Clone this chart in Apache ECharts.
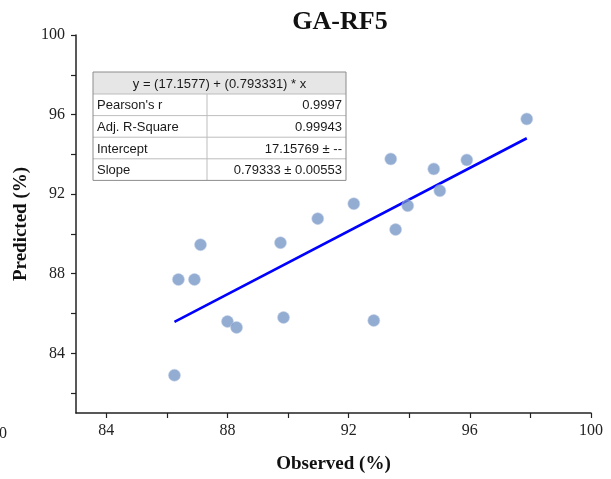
<!DOCTYPE html>
<html>
<head>
<meta charset="utf-8">
<script src="https://cdn.jsdelivr.net/npm/echarts@6/dist/echarts.min.js"></script>
<style>
  html, body { margin: 0; padding: 0; background: #fff; }
  #chart { width: 611px; height: 479px; }
</style>
</head>
<body>
<div id="chart"></div>
<script>
// Observed vs. predicted values for the GA-RF5 model
const observed  = [86.25, 86.38, 86.91, 87.11, 88.00, 88.30, 89.75, 89.85, 90.98,
                   92.17, 92.83, 93.39, 93.55, 93.95, 94.81, 95.01, 95.90, 97.88];
const predicted = [82.90, 87.71, 87.71, 89.46, 85.60, 85.30, 89.56, 85.80, 90.77,
                   91.52, 85.65, 93.77, 90.22, 91.42, 93.27, 92.17, 93.72, 95.78];

// Linear fit coefficients
const intercept = 17.1577;
const slope = 0.793331;

// Fit summary table
const tableHeader = 'y = (17.1577) + (0.793331) * x';
const tableLabels = ["Pearson's r", 'Adj. R-Square', 'Intercept', 'Slope'];
const tableValues = ['0.9997', '0.99943', '17.15769 \u00b1 --', '0.79333 \u00b1 0.00553'];

// Axis ticks
const xLabelTicks = [84, 88, 92, 96, 100];
const xMinorTicks = [84, 86, 88, 90, 92, 94, 96, 98, 100];
const yLabelTicks = [84, 88, 92, 96, 100];
const yMinorTicks = [82, 84, 86, 88, 90, 92, 94, 96, 98, 100];

const serif = 'Liberation Serif';
const sans = 'Liberation Sans';

const points = observed.map((x, i) => [x, predicted[i]]);
const xLo = Math.min(...observed), xHi = Math.max(...observed);
const fitLine = [[xLo, intercept + slope * xLo], [xHi, intercept + slope * xHi]];

const chart = echarts.init(document.getElementById('chart'), null, { renderer: 'canvas' });

// Table built as graphic elements
function buildTable() {
  const left = 93, right = 346, top = 72, headH = 22, rowH = 21.6, split = 207;
  const els = [];
  const bottom = top + headH + rowH * tableLabels.length;
  els.push({ type: 'rect', shape: { x: left, y: top, width: right - left, height: headH },
             style: { fill: '#e6e6e6', stroke: null }, z: 10 });
  els.push({ type: 'rect', shape: { x: left, y: top, width: right - left, height: bottom - top },
             style: { fill: 'rgba(255,255,255,0)', stroke: '#8c8c8c', lineWidth: 1 }, z: 12 });
  els.push({ type: 'rect', shape: { x: left, y: top + headH, width: right - left, height: bottom - top - headH },
             style: { fill: '#ffffff' }, z: 9 });
  els.push({ type: 'text', x: (left + right) / 2, y: top + headH / 2 + 1, z: 13,
             style: { text: tableHeader, font: '13px ' + sans, fill: '#1a1a1a', align: 'center', verticalAlign: 'middle' } });
  els.push({ type: 'line', shape: { x1: split, y1: top + headH, x2: split, y2: bottom },
             style: { stroke: '#bdbdbd', lineWidth: 1 }, z: 11 });
  tableLabels.forEach((lab, i) => {
    const y0 = top + headH + rowH * i;
    els.push({ type: 'line', shape: { x1: left, y1: y0, x2: right, y2: y0 },
               style: { stroke: '#bdbdbd', lineWidth: 1 }, z: 11 });
    els.push({ type: 'text', x: left + 4, y: y0 + rowH / 2 + 1, z: 13,
               style: { text: lab, font: '13px ' + sans, fill: '#1a1a1a', align: 'left', verticalAlign: 'middle' } });
    els.push({ type: 'text', x: right - 4, y: y0 + rowH / 2 + 1, z: 13,
               style: { text: tableValues[i], font: '13px ' + sans, fill: '#1a1a1a', align: 'right', verticalAlign: 'middle' } });
  });
  // clipped tick label from the neighbouring panel edge
  els.push({ type: 'text', x: 7, y: 434, z: 13,
             style: { text: '100', font: '16px ' + serif, fill: '#222', align: 'right', verticalAlign: 'middle' } });
  return els;
}

const axisCommon = {
  type: 'value',
  splitLine: { show: false },
  axisLine: { show: true, onZero: false, lineStyle: { color: '#222', width: 1.5 } },
  axisTick: { show: true, inside: false, length: 5, lineStyle: { color: '#222', width: 1.2 } },
  axisLabel: { fontFamily: serif, fontSize: 16, color: '#222', margin: 10 },
  nameTextStyle: { fontFamily: serif, fontSize: 19, fontWeight: 'bold', color: '#111' },
  nameLocation: 'middle'
};

chart.setOption({
  animation: false,
  backgroundColor: '#ffffff',
  title: {
    text: 'GA-RF5', left: 335, top: 4, textAlign: 'center',
    textStyle: { fontFamily: serif, fontSize: 26, fontWeight: 'bold', color: '#111' }
  },
  grid: { left: 76, right: 20, top: 35, bottom: 63, containLabel: false },
  xAxis: Object.assign({}, axisCommon, {
    min: 83, max: 100, name: 'Observed (%)', nameGap: 42,
    axisTick: Object.assign({}, axisCommon.axisTick, { customValues: xMinorTicks }),
    axisLabel: Object.assign({}, axisCommon.axisLabel, { customValues: xLabelTicks })
  }),
  yAxis: Object.assign({}, axisCommon, {
    min: 81, max: 100, name: 'Predicted (%)', nameGap: 43, nameRotate: 90,
    axisTick: Object.assign({}, axisCommon.axisTick, { customValues: yMinorTicks }),
    axisLabel: Object.assign({}, axisCommon.axisLabel, { customValues: yLabelTicks, margin: 11 })
  }),
  series: [
    {
      type: 'line', data: fitLine, symbol: 'none', z: 3,
      lineStyle: { color: '#0000ff', width: 2.6 }
    },
    {
      type: 'scatter', data: points, symbol: 'circle', symbolSize: 12, z: 4,
      itemStyle: { color: 'rgba(108,142,193,0.92)', borderColor: 'rgba(196,210,232,0.9)', borderWidth: 0.8 }
    }
  ],
  graphic: buildTable()
});
</script>
</body>
</html>
